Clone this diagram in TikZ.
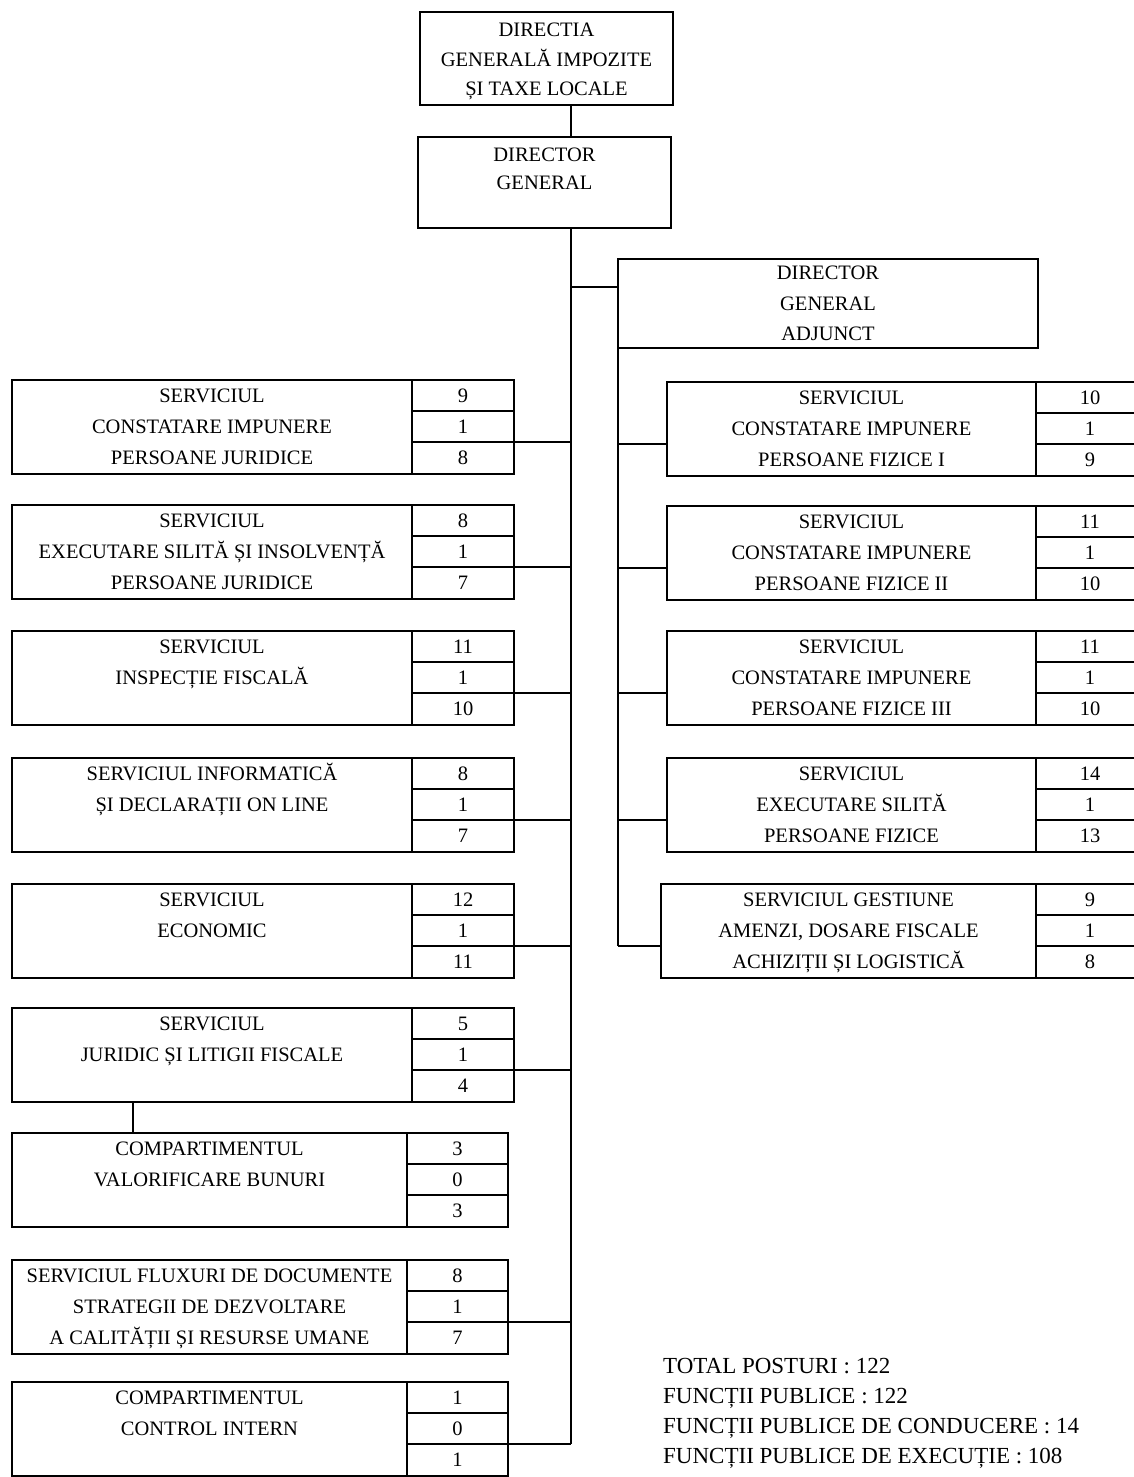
\documentclass[tikz,border=0pt]{standalone}
\usepackage{fontspec}
\setmainfont{Liberation Serif}
\usetikzlibrary{calc}
\tikzset{
  frame/.style={draw, line width=2.8pt, inner sep=0pt, outer sep=0pt, anchor=north west},
  rule/.style={line width=2.8pt},
  conn/.style={line width=1.3pt},
  lbl/.style={font=\fontsize{20.5}{24}\selectfont, inner sep=0pt, anchor=base},
  note/.style={font=\fontsize{23}{28}\selectfont, inner sep=0pt, anchor=base west},
}
% #1 name, #2 left x, #3 divider x, #4 right x, #5 top y, #6 label lines, #7-#9 numbers
\newcommand\svc[9]{%
  \node[frame, minimum width={#4-#2}, minimum height=94] (#1) at (#2,#5) {};
  \draw[rule] (#3,#5) -- (#3,{#5+94});
  \draw[rule] (#3,{#5+31}) -- (#4,{#5+31}) (#3,{#5+62}) -- (#4,{#5+62});
  \foreach \t [count=\i] in {#6} {\node[lbl] (#1-l\i) at ({(#2+#3)/2},{#5+31*\i-8.7}) {\t};}
  \node[lbl] (#1-n1) at ({(#3+#4)/2},{#5+22.3}) {#7};
  \node[lbl] (#1-n2) at ({(#3+#4)/2},{#5+53.3}) {#8};
  \node[lbl] (#1-n3) at ({(#3+#4)/2},{#5+84.3}) {#9};
}
\begin{document}
\begin{tikzpicture}[x=1pt,y=-1pt]
\useasboundingbox (0,0) rectangle (1134,1477);
\clip (0,0) rectangle (1134,1477);

% top boxes
\node[frame, minimum width=253, minimum height=93] (TB) at (420,12) {};
\node[lbl] (TB-1) at ($(TB.north)+(0,24.8)$) {DIRECTIA};
\node[lbl] (TB-2) at ($(TB.north)+(0,54.8)$) {GENERALĂ IMPOZITE};
\node[lbl] (TB-3) at ($(TB.north)+(0,83.8)$) {ȘI TAXE LOCALE};

\node[frame, minimum width=253, minimum height=91] (DG) at (418,137) {};
\node[lbl] (DG-1) at ($(DG.north)+(0,24.8)$) {DIRECTOR};
\node[lbl] (DG-2) at ($(DG.north)+(0,52.8)$) {GENERAL};

\node[frame, minimum width=420, minimum height=89] (DA) at (618,259) {};
\node[lbl] (DA-1) at ($(DA.north)+(0,20.8)$) {DIRECTOR};
\node[lbl] (DA-2) at ($(DA.north)+(0,51.8)$) {GENERAL};
\node[lbl] (DA-3) at ($(DA.north)+(0,81.8)$) {ADJUNCT};

% left column
\svc{L1}{12}{412}{514}{380}{SERVICIUL,CONSTATARE IMPUNERE,PERSOANE JURIDICE}{9}{1}{8}
\svc{L2}{12}{412}{514}{505}{SERVICIUL,EXECUTARE SILITĂ ȘI INSOLVENȚĂ,PERSOANE JURIDICE}{8}{1}{7}
\svc{L3}{12}{412}{514}{631}{SERVICIUL,INSPECȚIE FISCALĂ}{11}{1}{10}
\svc{L4}{12}{412}{514}{758}{SERVICIUL INFORMATICĂ,ȘI DECLARAȚII ON LINE}{8}{1}{7}
\svc{L5}{12}{412}{514}{884}{SERVICIUL,ECONOMIC}{12}{1}{11}
\svc{L6}{12}{412}{514}{1008}{SERVICIUL,JURIDIC ȘI LITIGII FISCALE}{5}{1}{4}
\svc{L7}{12}{407}{508}{1133}{COMPARTIMENTUL,VALORIFICARE BUNURI}{3}{0}{3}
\svc{L8}{12}{407}{508}{1260}{SERVICIUL FLUXURI DE DOCUMENTE,STRATEGII DE DEZVOLTARE,A CALITĂȚII ȘI RESURSE UMANE}{8}{1}{7}
\svc{L9}{12}{407}{508}{1382}{COMPARTIMENTUL,CONTROL INTERN}{1}{0}{1}

% right column
\svc{R1}{667}{1036}{1144}{382}{SERVICIUL,CONSTATARE IMPUNERE,PERSOANE FIZICE I}{10}{1}{9}
\svc{R2}{667}{1036}{1144}{506}{SERVICIUL,CONSTATARE IMPUNERE,PERSOANE FIZICE II}{11}{1}{10}
\svc{R3}{667}{1036}{1144}{631}{SERVICIUL,CONSTATARE IMPUNERE,PERSOANE FIZICE III}{11}{1}{10}
\svc{R4}{667}{1036}{1144}{758}{SERVICIUL,EXECUTARE SILITĂ,PERSOANE FIZICE}{14}{1}{13}
\svc{R5}{661}{1036}{1144}{884}{SERVICIUL GESTIUNE,{AMENZI, DOSARE FISCALE},ACHIZIȚII ȘI LOGISTICĂ}{9}{1}{8}

% connectors
\coordinate (tr) at (571,0);
\coordinate (sv) at (DA.south west);
\coordinate (jr) at (133,0);
\draw[conn] (TB.south -| tr) -- (DG.north -| tr);
\draw[conn] (DG.south -| tr) -- ([yshift=-62pt]L9.north east -| tr);
\draw[conn] ([yshift=-28pt]DA.north west -| tr) -- ([yshift=-28pt]DA.north west);
\draw[conn] (DA.south west) -- ([yshift=-62pt]R5.north west -| sv);
\foreach \n in {L1,L2,L3,L4,L5,L6,L8,L9}
  \draw[conn] ([yshift=-62pt]\n.north east) -- ([yshift=-62pt]\n.north east -| tr);
\foreach \n in {R1,R2,R3,R4,R5}
  \draw[conn] ([yshift=-62pt]\n.north west) -- ([yshift=-62pt]\n.north west -| sv);
\draw[conn] (L6.south -| jr) -- (L7.north -| jr);

% totals
\node[note] (T1) at (663,1373) {TOTAL POSTURI : 122};
\node[note] (T2) at (663,1403) {FUNCȚII PUBLICE : 122};
\node[note] (T3) at (663,1433) {FUNCȚII PUBLICE DE CONDUCERE : 14};
\node[note] (T4) at (663,1463) {FUNCȚII PUBLICE DE EXECUȚIE : 108};
\end{tikzpicture}
\end{document}
